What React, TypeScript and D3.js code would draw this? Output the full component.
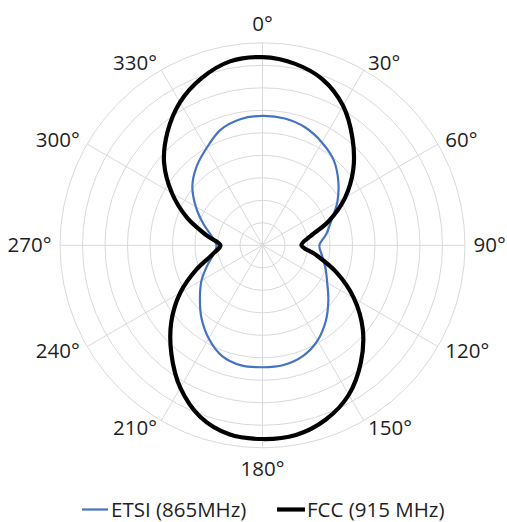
import React from "react";
import * as d3 from "d3";

const angles = d3.range(0, 360, 10);
const etsi = [
  5.75, 5.72, 5.57, 5.28, 4.93, 4.4, 3.84, 3.26, 2.88, 2.53, 2.69, 2.98,
  3.32, 3.82, 4.38, 4.89, 5.24, 5.4, 5.42, 5.42, 5.24, 4.78, 4.22, 3.63,
  3.13, 2.61, 2.2, 2.04, 2.29, 2.8, 3.42, 4.07, 4.56, 4.98, 5.46, 5.69,
];
const fcc = [
  8.36, 8.2, 7.84, 7.16, 6.22, 5.27, 4.24, 3.13, 2.11, 1.73, 2.4, 3.49,
  4.69, 5.82, 6.8, 7.67, 8.24, 8.56, 8.61, 8.53, 8.11, 7.31, 6.3, 5.29,
  4.22, 3.11, 2.24, 1.87, 2.52, 3.56, 4.65, 5.71, 6.57, 7.34, 7.91, 8.3,
];
const ringValues = [1, 2, 3, 4, 5, 6, 7, 8, 9];
const spokeAngles = [0, 30, 60, 90, 120, 150, 180, 210, 240, 270, 300, 330];
const seriesNames = ["ETSI (865MHz)", "FCC (915 MHz)"];

const W = 507;
const H = 522;
const cx = 262.5;
const cy = 245.3;
const R = 202.5;
const FONT = "'Open Sans', 'Noto Sans', sans-serif";
const FS = 20.5;
const LEGEND_Y = 509.5;

export default function App() {
  const r = d3.scaleLinear().domain([0, 9]).range([0, R]);
  const toRad = (deg: number) => (deg * Math.PI) / 180;
  const line = (vals: number[]) =>
    d3
      .lineRadial<number>()
      .angle((_, i) => toRad(angles[i]))
      .radius((v) => r(v))
      .curve(d3.curveCatmullRomClosed.alpha(0.5))(vals) || "";

  const labelR = 211;
  return (
    <svg
      width={W}
      height={H}
      style={{ position: "absolute", left: 0, top: 0, background: "#fff" }}
      fontFamily={FONT}
    >
      <g transform={`translate(${cx},${cy})`}>
        {ringValues.map((v) => (
          <circle key={v} r={r(v)} fill="none" stroke="#d9d9d9" strokeWidth={1} />
        ))}
        {spokeAngles.map((a) => (
          <line
            key={a}
            x1={0}
            y1={0}
            x2={r(9) * Math.sin(toRad(a))}
            y2={-r(9) * Math.cos(toRad(a))}
            stroke="#d9d9d9"
            strokeWidth={1}
          />
        ))}
        <path d={line(etsi)} fill="none" stroke="#4472C4" strokeWidth={2.2} />
        <path d={line(fcc)} fill="none" stroke="#000" strokeWidth={4.2} strokeLinejoin="round" />
        {spokeAngles.map((a) => {
          const s = Math.sin(toRad(a));
          const c = Math.cos(toRad(a));
          const x = labelR * s;
          const y = -labelR * c;
          const anchor = Math.abs(s) < 0.01 ? "middle" : s > 0 ? "start" : "end";
          const dy = a === 0 ? "-0.15em" : a === 180 ? "0.95em" : "0.35em";
          return (
            <text
              key={a}
              x={x}
              y={y}
              dy={dy}
              textAnchor={anchor}
              fontSize={FS}
              fill="#1f1f1f"
            >
              {a}°
            </text>
          );
        })}
      </g>
      <g>
        <line x1={82} x2={108} y1={LEGEND_Y} y2={LEGEND_Y} stroke="#4472C4" strokeWidth={2.2} />
        <text x={111} y={LEGEND_Y} dy="0.35em" fontSize={FS} fill="#1f1f1f">
          {seriesNames[0]}
        </text>
        <line x1={277} x2={305} y1={LEGEND_Y} y2={LEGEND_Y} stroke="#000" strokeWidth={4.2} />
        <text x={307} y={LEGEND_Y} dy="0.35em" fontSize={FS} fill="#1f1f1f">
          {seriesNames[1]}
        </text>
      </g>
    </svg>
  );
}
